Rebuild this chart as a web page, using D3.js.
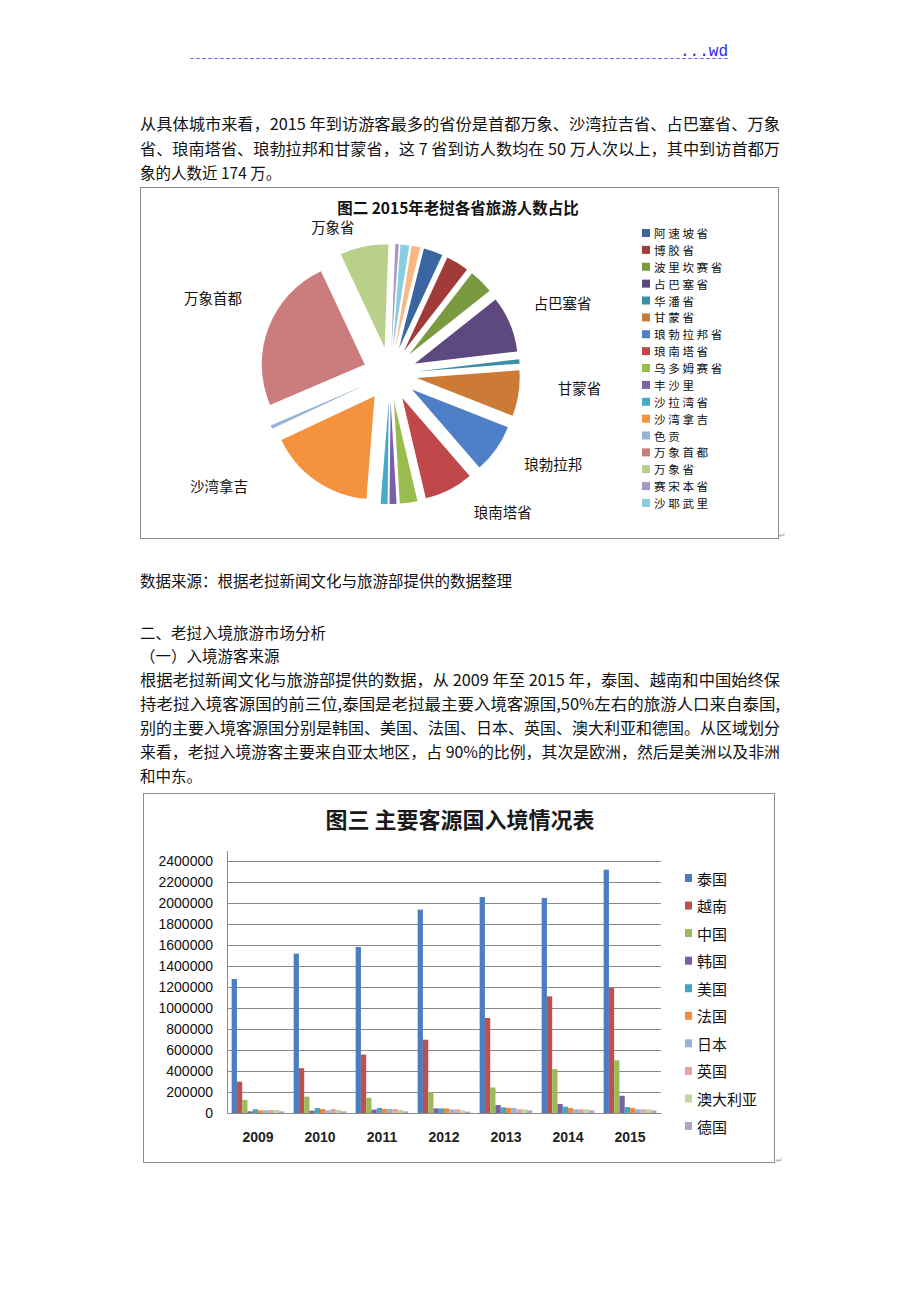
<!DOCTYPE html>
<html><head><meta charset="utf-8">
<script src="https://cdn.jsdelivr.net/npm/d3@7"></script>
<style>
html,body{margin:0;padding:0;background:#fff;}
svg{display:block;}
</style></head><body>
<svg id="page" width="920" height="1302"></svg>
<script>
// ---------- DATA: 图二 2015年老挝各省旅游人数（千人次，读图估计） ----------
const provinces = ["阿速坡省","博胶省","波里坎赛省","占巴塞省","华潘省","甘蒙省","琅勃拉邦省","琅南塔省","乌多姆赛省","丰沙里","沙拉湾省","沙湾拿吉","色贡","万象首都","万象省","赛宋本省","沙耶武里","川圹省"];
const visitors2015 = [215,254,274,626,49,510,547,547,196,78,78,1193,39,1740,540,39,98,98];
const pieLabelText = ["","","","占巴塞省","","甘蒙省","琅勃拉邦","琅南塔省","","","","沙湾拿吉","","万象首都","万象省","","",""];
const legendCount = 17;

// ---------- DATA: 图三 主要客源国入境情况表 ----------
const years = ["2009","2010","2011","2012","2013","2014","2015"];
const countries = ["泰国","越南","中国","韩国","美国","法国","日本","英国","澳大利亚","德国"];
const thailand  = [1276000,1517000,1581000,1937000,2057000,2048000,2317000];
const vietnam   = [298000,427000,556000,698000,905000,1111000,1192000];
const china     = [125000,156000,145000,197000,243000,418000,502000];
const korea     = [16000,22000,32000,44000,76000,86000,164000];
const usa       = [36000,48000,48000,44000,54000,60000,57000];
const france    = [25000,38000,38000,44000,48000,48000,48000];
const japan     = [25000,25000,38000,35000,48000,35000,35000];
const uk        = [29000,38000,38000,35000,35000,35000,35000];
const australia = [29000,29000,29000,25000,35000,35000,35000];
const germany   = [16000,16000,16000,13000,25000,25000,25000];
const seriesValues = [thailand,vietnam,china,korea,usa,france,japan,uk,australia,germany];
const yTickValues = [0,200000,400000,600000,800000,1000000,1200000,1400000,1600000,1800000,2000000,2200000,2400000];

// ---------- STYLE ----------
const CJK = '"Noto Sans CJK SC","Noto Sans",sans-serif';
const LAT = '"Liberation Sans",Arial,sans-serif';
const pieColors = ["#3A65A0","#A03B39","#7A9A40","#5E4880","#3A8FA6","#CB7B35",
                   "#4D80C6","#C0484A","#9ABB4E","#7B5FA8","#47ABC8","#F5923E",
                   "#95B3D7","#CB7D7D","#B9D08A","#A897C6","#8ACFE0","#F9B783"];
const barColors = ["#4A7EC0","#C0504D","#9BBB59","#7A5FA3","#3FA8C6","#F08A3C","#95B3D7","#E3A3A2","#C3D69B","#B3A2C7"];

const svg = d3.select("#page");

// ---------- header ----------
svg.append("line").attr("x1",190).attr("x2",728).attr("y1",58.5).attr("y2",58.5)
  .attr("stroke","#7070ee").attr("stroke-width",1).attr("stroke-dasharray","4,2");
svg.append("text").attr("x",728).attr("y",56).attr("text-anchor","end")
  .attr("fill","#2a2aee").style("font-family",'"Liberation Mono",monospace').style("font-size","16px")
  .text("...wd");

// ---------- body text ----------
const bodyLines = [
  {t:"从具体城市来看，2015 年到访游客最多的省份是首都万象、沙湾拉吉省、占巴塞省、万象", y:123, j:true},
  {t:"省、琅南塔省、琅勃拉邦和甘蒙省，这 7 省到访人数均在 50 万人次以上，其中到访首都万", y:148, j:true},
  {t:"象的人数近 174 万。", y:172, j:false},
  {t:"数据来源：根据老挝新闻文化与旅游部提供的数据整理", y:580, j:false},
  {t:"二、老挝入境旅游市场分析", y:632, j:false},
  {t:"（一）入境游客来源", y:655, j:false},
  {t:"根据老挝新闻文化与旅游部提供的数据，从 2009 年至 2015 年，泰国、越南和中国始终保", y:679, j:true},
  {t:"持老挝入境客源国的前三位,泰国是老挝最主要入境客源国,50%左右的旅游人口来自泰国,", y:703, j:true},
  {t:"别的主要入境客源国分别是韩国、美国、法国、日本、英国、澳大利亚和德国。从区域划分", y:727, j:true},
  {t:"来看，老挝入境游客主要来自亚太地区，占 90%的比例，其次是欧洲，然后是美洲以及非洲", y:751, j:true},
  {t:"和中东。", y:775, j:false}
];
bodyLines.forEach(l=>{
  const tx = svg.append("text").attr("x",140).attr("y",l.y).attr("dominant-baseline","central")
    .attr("fill","#111").style("font-family",CJK).style("font-size","15.5px").text(l.t);
  if(l.j) tx.attr("textLength",640).attr("lengthAdjust","spacingAndGlyphs");
});

// ---------- 图二 pie chart ----------
svg.append("rect").attr("x",140.5).attr("y",187.5).attr("width",638).attr("height",351)
  .attr("fill","none").attr("stroke","#8c8c8c").attr("stroke-width",1);
svg.append("text").attr("x",458).attr("y",207).attr("text-anchor","middle").attr("dominant-baseline","central")
  .attr("fill","#111").style("font-family",CJK).style("font-size","15.5px").style("font-weight","bold")
  .text("图二 2015年老挝各省旅游人数占比");

const pieCx = 390, pieCy = 374, pieR = 103, explode = 27;
const deg = Math.PI/180;
const pie = d3.pie().sort(null).value(d=>d).startAngle(14*deg).endAngle(374*deg);
const arcs = pie(visitors2015);
const arc = d3.arc().innerRadius(0).outerRadius(pieR);
const pg = svg.append("g").attr("transform",`translate(${pieCx},${pieCy})`);
pg.selectAll("path").data(arcs).join("path")
  .attr("d",arc)
  .attr("fill",(d,i)=>pieColors[i])
  .attr("transform",d=>{const m=(d.startAngle+d.endAngle)/2;return `translate(${Math.sin(m)*explode},${-Math.cos(m)*explode})`;});

// label placement (polar: angle in degrees clockwise from 12 o'clock, radius)
const labelPolar = {"占巴塞省":[67.4,187],"甘蒙省":[94,190],"琅勃拉邦":[118.6,186],"琅南塔省":[140.7,178],
                    "沙湾拿吉":[237,204],"万象首都":[293.5,193],"万象省":[338.8,158]};
arcs.forEach((d,i)=>{
  const lab = pieLabelText[i];
  if(!lab) return;
  const [a,r] = labelPolar[lab];
  pg.append("text").attr("x",Math.sin(a*deg)*r).attr("y",-Math.cos(a*deg)*r)
    .attr("text-anchor","middle").attr("dominant-baseline","central")
    .attr("fill","#111").style("font-family",CJK).style("font-size","14.5px").text(lab);
});

// pie legend (tight rows: smaller glyphs with letter-spacing to keep the original width)
const legY = d3.scaleLinear().domain([0,legendCount-1]).range([233,503]);
const lg = svg.append("g");
for(let i=0;i<legendCount;i++){
  lg.append("rect").attr("x",642).attr("y",legY(i)-4).attr("width",8).attr("height",8).attr("fill",pieColors[i]);
  lg.append("text").attr("x",654).attr("y",legY(i)).attr("dominant-baseline","central")
    .attr("fill","#111").style("font-family",CJK).style("font-size","11.6px").style("letter-spacing","2.6px")
    .text(provinces[i]);
}
svg.append("text").attr("x",779).attr("y",538).attr("fill","#999").style("font-size","8px").style("font-family",LAT).text("↵");

// ---------- 图三 bar chart ----------
svg.append("rect").attr("x",143.5).attr("y",793.5).attr("width",631).attr("height",369)
  .attr("fill","none").attr("stroke","#8c8c8c").attr("stroke-width",1);
svg.append("text").attr("x",460).attr("y",818).attr("text-anchor","middle").attr("dominant-baseline","central")
  .attr("fill","#1a1a1a").style("font-family",CJK).style("font-size","22px").style("font-weight","bold")
  .text("图三 主要客源国入境情况表");

const plotL = 227, plotR = 661;
const y = d3.scaleLinear().domain([0,2500000]).range([1113,850.5]);
const x0 = d3.scaleBand().domain(years).range([plotL,plotR]).paddingInner(0.15).paddingOuter(0.075);
const x1 = d3.scaleBand().domain(countries).range([0,x0.bandwidth()]);

// gridlines
svg.append("g").selectAll("line").data(yTickValues.slice(1)).join("line")
  .attr("x1",plotL).attr("x2",plotR).attr("y1",d=>Math.round(y(d))+0.5).attr("y2",d=>Math.round(y(d))+0.5)
  .attr("stroke","#8a8a8a").attr("stroke-width",1);

// bars
const bg = svg.append("g");
years.forEach((yr,yi)=>{
  countries.forEach((c,ci)=>{
    const v = seriesValues[ci][yi];
    bg.append("rect").attr("x",x0(yr)+x1(c)).attr("y",y(v)).attr("width",x1.bandwidth())
      .attr("height",y(0)-y(v)).attr("fill",barColors[ci]);
  });
});

// y axis
const yAxis = svg.append("g").attr("transform",`translate(${plotL},0)`)
  .call(d3.axisLeft(y).tickValues(yTickValues).tickFormat(d3.format("d")).tickSize(0).tickPadding(14));
yAxis.select(".domain").attr("stroke","#8a8a8a");
yAxis.selectAll("text").style("font-family",LAT).style("font-size","14px").attr("fill","#111");
// x axis
const xAxis = svg.append("g").attr("transform",`translate(0,${y(0)})`)
  .call(d3.axisBottom(x0).tickSize(0).tickPadding(19));
xAxis.select(".domain").attr("stroke","#8a8a8a");
xAxis.selectAll("text").style("font-family",LAT).style("font-size","14px").style("font-weight","bold").attr("fill","#222");

// bar legend
const blY = d3.scaleLinear().domain([0,countries.length-1]).range([878,1126]);
countries.forEach((c,i)=>{
  svg.append("rect").attr("x",685).attr("y",blY(i)-4).attr("width",7).attr("height",8).attr("fill",barColors[i]);
  svg.append("text").attr("x",697).attr("y",blY(i)).attr("dominant-baseline","central")
    .attr("fill","#111").style("font-family",CJK).style("font-size","15px").text(c);
});
svg.append("text").attr("x",776).attr("y",1163).attr("fill","#999").style("font-size","8px").style("font-family",LAT).text("↵");
</script>
</body></html>
